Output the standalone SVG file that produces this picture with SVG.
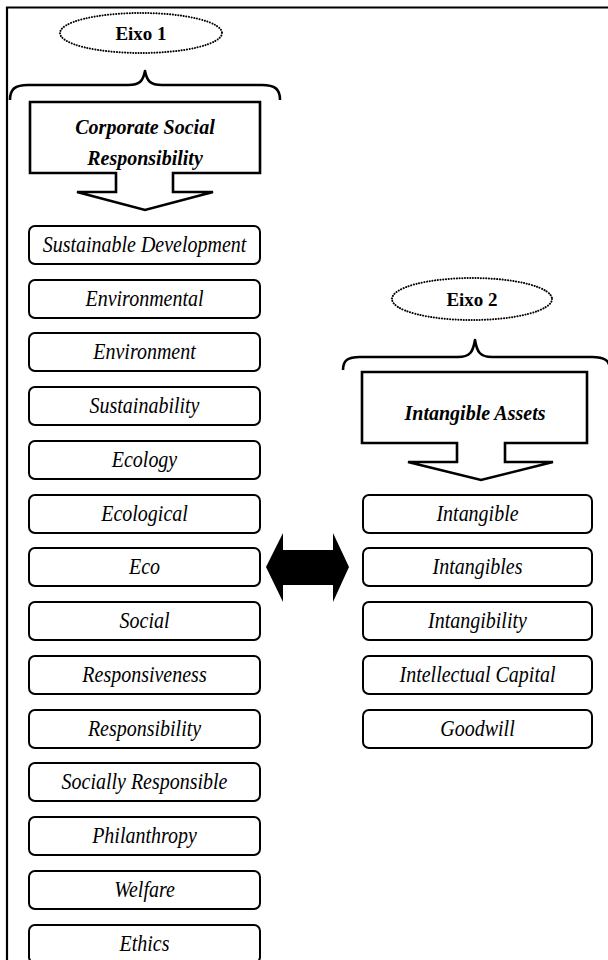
<svg xmlns="http://www.w3.org/2000/svg" width="608" height="960" viewBox="0 0 608 960">
  <style>
    .frame { stroke: #000; stroke-width: 2.2; fill: none; }
    .axis { fill: none; stroke: #000; stroke-width: 2; stroke-dasharray: 0.1 2.6; stroke-linecap: round; }
    .axis-label { font-family: "Liberation Serif", "Times New Roman", serif; font-weight: bold; font-size: 19px; text-anchor: middle; fill: #000; }
    .brace { fill: none; stroke: #000; stroke-width: 2.6; stroke-linejoin: round; }
    .callout { fill: #fff; stroke: #000; stroke-width: 2.6; stroke-linejoin: miter; }
    .callout-label { font-family: "Liberation Serif", "Times New Roman", serif; font-weight: bold; font-style: italic; font-size: 20px; text-anchor: middle; fill: #000; }
    .term rect { fill: #fff; stroke: #000; stroke-width: 2; }
    .term text { font-family: "Liberation Serif", "Times New Roman", serif; font-style: italic; font-size: 20px; text-anchor: middle; fill: #000; }
  </style>
  <rect width="608" height="960" fill="#fff"/>

  <!-- outer frame: top and left edges -->
  <path class="frame" d="M7,960 V7.5 H608"/>

  <!-- Axis 1 header -->
  <g id="eixo1">
    <ellipse class="axis" cx="141" cy="33" rx="81" ry="20"/>
    <text class="axis-label" x="141" y="40">Eixo 1</text>
  </g>
  <g id="brace1">
    <path class="brace" d="M10,100 C10,89 15,85 28,85 H128 C140,85 143,81 145,71 C147,81 150,85 162,85 H262 C275,85 280,89 280,100"/>
  </g>
  <g id="csr">
    <path class="callout" d="M30,102 H260 V173 H173 V192 H213 L145,210 L77,192 H116 V173 H30 Z"/>
    <text class="callout-label" x="145" y="134">Corporate Social</text>
    <text class="callout-label" x="145" y="165">Responsibility</text>
  </g>

  <!-- Axis 2 header -->
  <g id="eixo2">
    <ellipse class="axis" cx="472" cy="299" rx="80" ry="21"/>
    <text class="axis-label" x="472" y="306">Eixo 2</text>
  </g>
  <g id="brace2">
    <path class="brace" d="M343,370 C343,360 348,357 360,357 H458 C470,357 473,352 475,340 C477,352 480,357 492,357 H592 C604,357 610,360 610,370"/>
  </g>
  <g id="intangible-assets">
    <path class="callout" d="M362,372 H587 V443 H505 V462 H553 L481,480 L408,462 H457 V443 H362 Z"/>
    <text class="callout-label" x="475" y="420">Intangible Assets</text>
  </g>

  <!-- Axis 1 terms (labels slightly stretched vertically) -->
  <g id="t-sustainable-development" class="term"><rect x="29" y="226" width="231" height="38" rx="6"/><text transform="translate(144.5 252) scale(1 1.12)">Sustainable Development</text></g>
  <g id="t-environmental" class="term"><rect x="29" y="280" width="231" height="38" rx="6"/><text transform="translate(144.5 306) scale(1 1.12)">Environmental</text></g>
  <g id="t-environment" class="term"><rect x="29" y="333" width="231" height="38" rx="6"/><text transform="translate(144.5 359) scale(1 1.12)">Environment</text></g>
  <g id="t-sustainability" class="term"><rect x="29" y="387" width="231" height="38" rx="6"/><text transform="translate(144.5 413) scale(1 1.12)">Sustainability</text></g>
  <g id="t-ecology" class="term"><rect x="29" y="441" width="231" height="38" rx="6"/><text transform="translate(144.5 467) scale(1 1.12)">Ecology</text></g>
  <g id="t-ecological" class="term"><rect x="29" y="495" width="231" height="38" rx="6"/><text transform="translate(144.5 521) scale(1 1.12)">Ecological</text></g>
  <g id="t-eco" class="term"><rect x="29" y="548" width="231" height="38" rx="6"/><text transform="translate(144.5 574) scale(1 1.12)">Eco</text></g>
  <g id="t-social" class="term"><rect x="29" y="602" width="231" height="38" rx="6"/><text transform="translate(144.5 628) scale(1 1.12)">Social</text></g>
  <g id="t-responsiveness" class="term"><rect x="29" y="656" width="231" height="38" rx="6"/><text transform="translate(144.5 682) scale(1 1.12)">Responsiveness</text></g>
  <g id="t-responsibility" class="term"><rect x="29" y="710" width="231" height="38" rx="6"/><text transform="translate(144.5 736) scale(1 1.12)">Responsibility</text></g>
  <g id="t-socially-responsible" class="term"><rect x="29" y="763" width="231" height="38" rx="6"/><text transform="translate(144.5 789) scale(1 1.12)">Socially Responsible</text></g>
  <g id="t-philanthropy" class="term"><rect x="29" y="817" width="231" height="38" rx="6"/><text transform="translate(144.5 843) scale(1 1.12)">Philanthropy</text></g>
  <g id="t-welfare" class="term"><rect x="29" y="871" width="231" height="38" rx="6"/><text transform="translate(144.5 897) scale(1 1.12)">Welfare</text></g>
  <g id="t-ethics" class="term"><rect x="29" y="925" width="231" height="38" rx="6"/><text transform="translate(144.5 951) scale(1 1.12)">Ethics</text></g>

  <!-- Axis 2 terms -->
  <g id="t-intangible" class="term"><rect x="363" y="495" width="229" height="38" rx="6"/><text transform="translate(477.5 521) scale(1 1.12)">Intangible</text></g>
  <g id="t-intangibles" class="term"><rect x="363" y="548" width="229" height="38" rx="6"/><text transform="translate(477.5 574) scale(1 1.12)">Intangibles</text></g>
  <g id="t-intangibility" class="term"><rect x="363" y="602" width="229" height="38" rx="6"/><text transform="translate(477.5 628) scale(1 1.12)">Intangibility</text></g>
  <g id="t-intellectual-capital" class="term"><rect x="363" y="656" width="229" height="38" rx="6"/><text transform="translate(477.5 682) scale(1 1.12)">Intellectual Capital</text></g>
  <g id="t-goodwill" class="term"><rect x="363" y="710" width="229" height="38" rx="6"/><text transform="translate(477.5 736) scale(1 1.12)">Goodwill</text></g>

  <!-- link between the two axes -->
  <g id="connectors">
    <path d="M266,567 L283,533 V550 H333 V533 L349,567 L333,602 V585 H283 V602 Z" fill="#000"/>
  </g>
</svg>
